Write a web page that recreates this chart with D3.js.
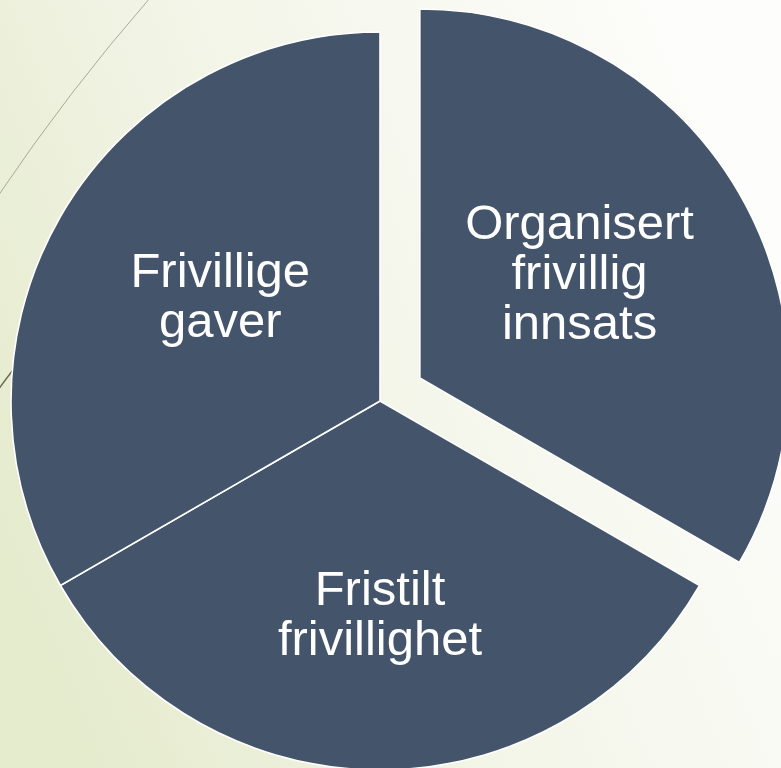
<!DOCTYPE html>
<html>
<head>
<meta charset="utf-8">
<script src="https://cdn.jsdelivr.net/npm/d3@7"></script>
<style>
  html, body { margin: 0; padding: 0; overflow: hidden; }
  svg { display: block; }
</style>
</head>
<body>
<div id="chart"></div>
<script>
// slice data
var categories = ["Organisert frivillig innsats", "Fristilt frivillighet", "Frivillige gaver"];
var labelLines = [["Organisert", "frivillig", "innsats"], ["Fristilt", "frivillighet"], ["Frivillige", "gaver"]];
var values = [1, 1, 1];
var exploded = [true, false, false];

var width = 781, height = 768;
var cx = 380, cy = 401, radius = 369, explodeDist = 46;

var svg = d3.select("#chart").append("svg")
  .attr("width", width)
  .attr("height", height);

// background gradient
var defs = svg.append("defs");
var grad = defs.append("linearGradient")
  .attr("id", "bg")
  .attr("x1", "0%").attr("y1", "70%")
  .attr("x2", "100%").attr("y2", "30%");
grad.append("stop").attr("offset", "0%").attr("stop-color", "#e5ebcd");
grad.append("stop").attr("offset", "45%").attr("stop-color", "#f3f5e8");
grad.append("stop").attr("offset", "100%").attr("stop-color", "#fdfdfb");

svg.append("rect")
  .attr("width", width).attr("height", height)
  .attr("fill", "url(#bg)");

// decorative thin curves on the left
var deco = svg.append("g")
  .attr("fill", "none")
  .attr("stroke", "#8c8c76")
  .attr("stroke-width", 1);
var p1 = d3.path();
p1.moveTo(150, -2);
p1.quadraticCurveTo(68, 92, -2, 196);
deco.append("path").attr("d", p1.toString()).attr("opacity", 0.7);
var p2 = d3.path();
p2.moveTo(-2, 390);
p2.quadraticCurveTo(8, 376, 24, 356);
deco.append("path").attr("d", p2.toString()).attr("stroke-width", 1.5).attr("stroke", "#6e6e58");

var pie = d3.pie().sort(null).value(function(d) { return d; });
var arcs = pie(values);

var arc = d3.arc().innerRadius(0).outerRadius(radius);
var labelArc = d3.arc().innerRadius(212).outerRadius(212);

var g = svg.append("g")
  .attr("transform", "translate(" + cx + "," + cy + ")");

var slices = g.selectAll("g.slice")
  .data(arcs)
  .enter()
  .append("g")
  .attr("class", "slice")
  .attr("transform", function(d, i) {
    if (!exploded[i]) return null;
    var a = (d.startAngle + d.endAngle) / 2;
    return "translate(" + (Math.sin(a) * explodeDist) + "," + (-Math.cos(a) * explodeDist) + ")";
  });

slices.append("path")
  .attr("d", arc)
  .attr("fill", "#44546a")
  .attr("stroke", "#ffffff")
  .attr("stroke-width", 1.6);

var fontSize = 49, lineH = 50;
slices.append("text")
  .attr("fill", "#ffffff")
  .attr("font-family", "'Liberation Sans', Arial, sans-serif")
  .attr("font-size", fontSize)
  .attr("text-anchor", "middle")
  .attr("transform", function(d) {
    var c = labelArc.centroid(d);
    return "translate(" + (c[0] * 0.87) + "," + c[1] + ")";
  })
  .selectAll("tspan")
  .data(function(d, i) { return labelLines[i]; })
  .enter()
  .append("tspan")
  .attr("x", 0)
  .attr("y", function(d, j, nodes) {
    var n = nodes.length;
    return (j - (n - 1) / 2) * lineH + fontSize * 0.35;
  })
  .text(function(d) { return d; });
</script>
</body>
</html>
